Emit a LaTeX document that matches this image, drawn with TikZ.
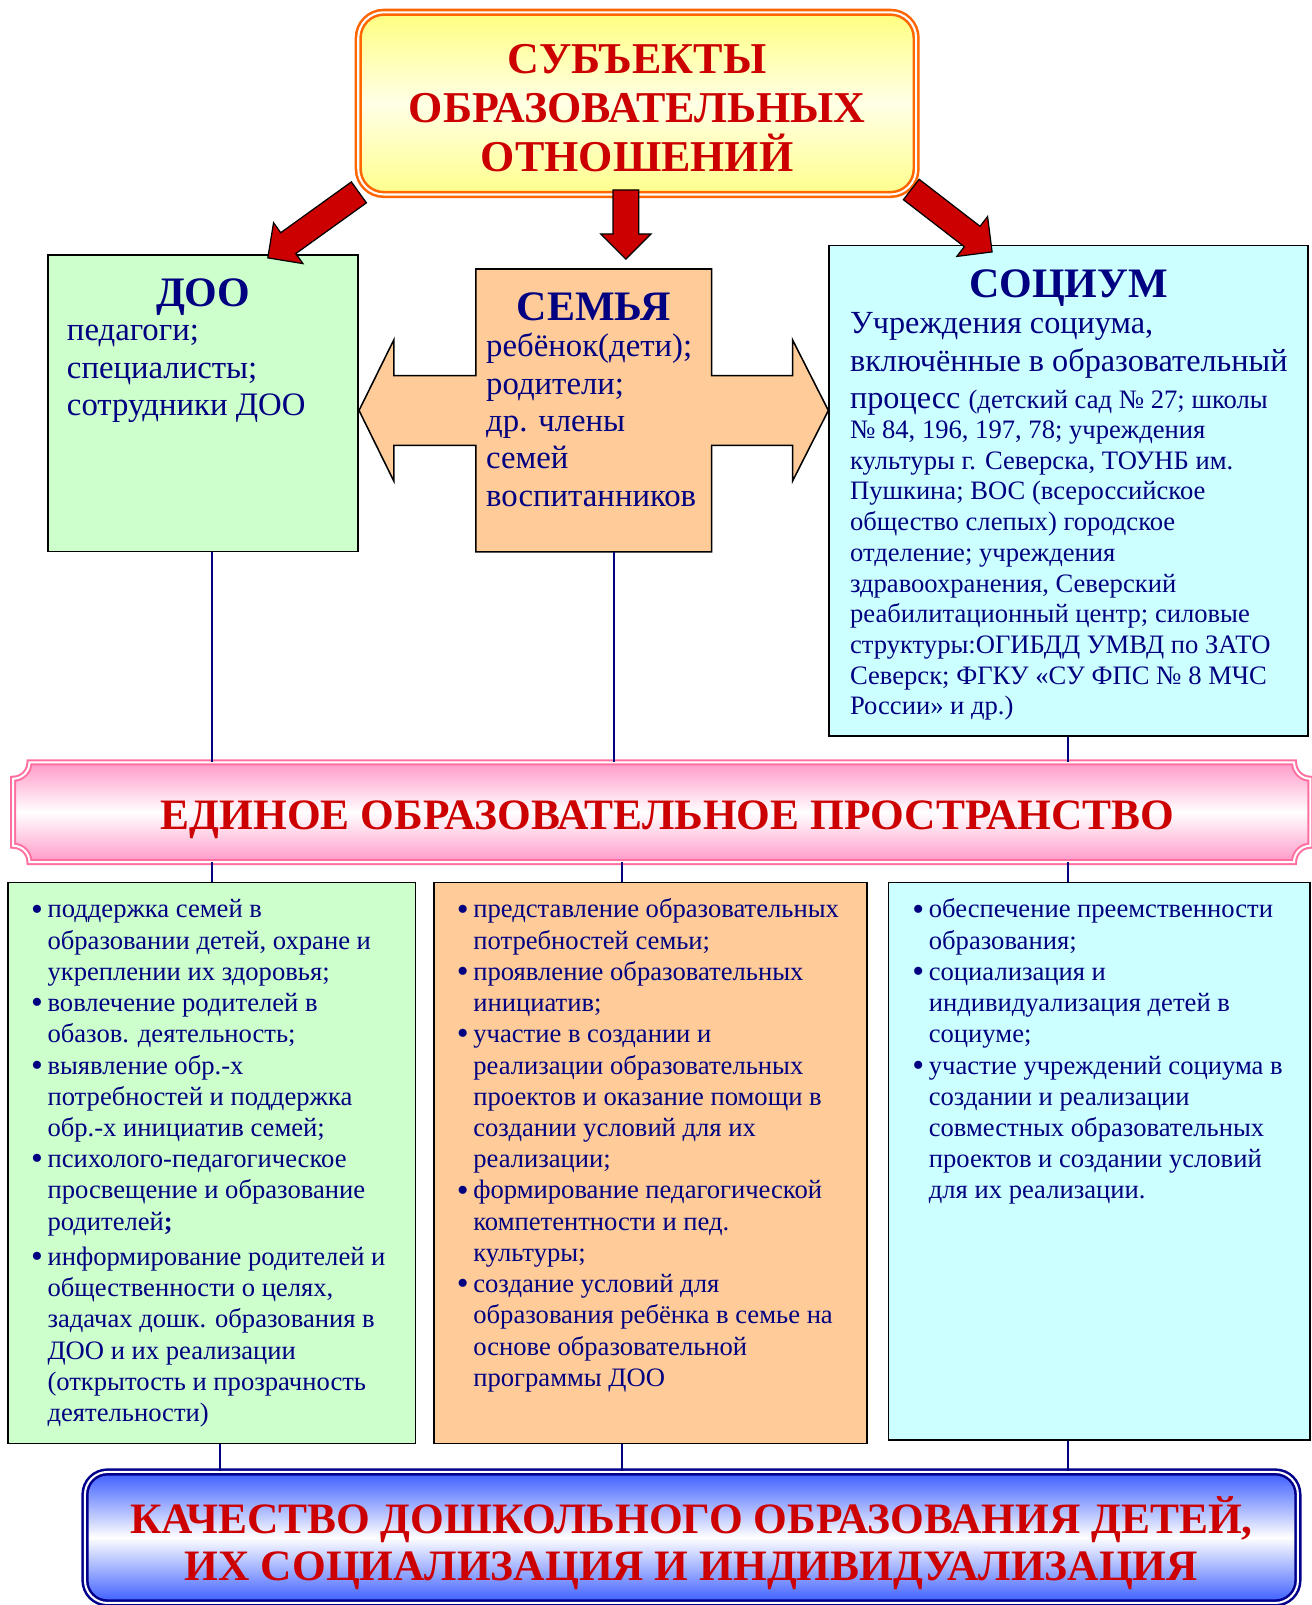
\documentclass[tikz,border=0pt]{standalone}
\usepackage{fontspec}
\setmainfont{Liberation Serif}
\usetikzlibrary{positioning, calc, shapes.arrows}
\definecolor{cnavy}{HTML}{000080}
\definecolor{cred}{HTML}{CC0000}
\definecolor{cgreen}{HTML}{CCFFCC}
\definecolor{corange}{HTML}{FFCC99}
\definecolor{ccyan}{HTML}{CCFFFF}
\definecolor{cframe}{HTML}{FF6600}
\definecolor{cpink}{HTML}{FF6F9F}
\definecolor{cpinkfill}{HTML}{FF99C8}
\definecolor{cblue}{HTML}{3A5CFF}
\definecolor{cdeep}{HTML}{00008C}
\newcommand\fsz[2]{\fontsize{#1}{#2}\selectfont}
\newcommand\itm{\makebox[16pt][l]{{\fsz{33}{30}\raisebox{-2pt}{•}}}}
\newcommand\ind{\hspace*{16pt}}
\newcommand\blockarrow[2]{\path let \p1=(#1), \p2=(#2), \n1={atan2(\y2-\y1,\x2-\x1)}, \n2={veclen(\x2-\x1,\y2-\y1)} in node[bigarrow, rotate=\n1, minimum height=\n2] at ($(#1)!0.5!(#2)$) {};}
\tikzset{
  every picture/.style={x=1pt, y=-1pt},
  card/.style={draw=black, line width=1.5pt, fill=#1, inner sep=0pt},
  head/.style={font=\bfseries\fsz{41}{45}, text=cnavy, anchor=base, inner sep=0pt},
  body/.style={font=\fsz{32}{36.5}, text=cnavy, align=left, inner sep=0pt, anchor=north west},
  fine/.style={font=\fsz{26}{30}, text=cnavy, align=left, inner sep=0pt, anchor=north west},
  points/.style={font=\fsz{26}{30.5}, text=cnavy, align=left, inner sep=0pt, anchor=north west},
  bigarrow/.style={single arrow, draw=black, fill=cred, line width=1.2pt, inner xsep=0pt, inner ysep=12pt, minimum width=48pt, single arrow head extend=12pt, single arrow tip angle=90},
  link/.style={draw=cnavy, line width=2pt},
  headline/.style={font=\bfseries\fsz{42.4}{46}, text=cred, align=center, inner sep=0pt},
}

\begin{document}
\begin{tikzpicture}
\fill[white] (0,0) rectangle (1281,1568);
\useasboundingbox (0,0) rectangle (1281,1568);
% top box
\node[draw=cframe, double=white, double distance=2pt, line width=2.5pt, rounded corners=25pt,
  top color=yellow!50, bottom color=yellow!45, middle color=yellow!10,
  minimum width=545pt, minimum height=178pt] (title) at (622.5,101) {};
\node[font=\bfseries\fsz{43}{48}, text=cred, align=center, inner sep=0pt] (titletext) at ($(title.center)+(0,4.5)$) {СУБЪЕКТЫ\\ОБРАЗОВАТЕЛЬНЫХ\\ОТНОШЕНИЙ};

% the three subjects
\node[card=cgreen, minimum width=303pt, minimum height=290pt] (doo) at (198.5,394) {};
\node[card=ccyan, minimum width=468pt, minimum height=479pt] (socium) at (1044,479.5) {};
\node[inner sep=0pt, minimum width=230pt, minimum height=276pt] (semya) at (580,401) {};
\coordinate (tipL) at (doo.east |- semya.center);
\coordinate (tipR) at (socium.west |- semya.center);
\coordinate (hL) at ($(tipL)+(34,0)$);
\coordinate (hR) at ($(tipR)+(-35,0)$);
\draw[card=corange] (semya.north west) -- (semya.north east) -- ($(semya.east)+(0,-34)$)
  -- ($(hR)+(0,-34)$) -- ($(hR)+(0,-69)$) -- (tipR) -- ($(hR)+(0,69)$) -- ($(hR)+(0,34)$)
  -- ($(semya.east)+(0,34)$) -- (semya.south east) -- (semya.south west) -- ($(semya.west)+(0,34)$)
  -- ($(hL)+(0,34)$) -- ($(hL)+(0,69)$) -- (tipL) -- ($(hL)+(0,-69)$) -- ($(hL)+(0,-34)$)
  -- ($(semya.west)+(0,-34)$) -- cycle;

\node[head] (dootitle) at ($(doo.north)+(0,51)$) {ДОО};
\node[body] (dootext) at ($(doo.north west)+(19,59)$) {\strut педагоги;\\специалисты;\\сотрудники ДОО};
\node[head] (semyatitle) at ($(semya.north)+(0,50)$) {СЕМЬЯ};
\node[body] (semyatext) at ($(semya.north west)+(10,60)$) {\strut ребёнок(дети);\\родители;\\др. члены\\семей\\воспитанников};
\node[head] (sociumtitle) at ($(socium.north)+(0,51)$) {СОЦИУМ};
\node[body, font=\fsz{31.5}{36.5}] (sociumtext) at ($(socium.north west)+(21,61)$) {\strut Учреждения социума,\\включённые в образовательный\\процесс {\fsz{26}{30}(детский сад № 27; школы}};
\node[fine] (sociumlist) at ($(socium.north west)+(21,168)$) {\strut № 84, 196, 197, 78; учреждения\\культуры г. Северска, ТОУНБ им.\\Пушкина; ВОС (всероссийское\\общество слепых) городское\\отделение; учреждения\\здравоохранения, Северский\\реабилитационный центр; силовые\\структуры:ОГИБДД УМВД по ЗАТО\\Северск; ФГКУ «СУ ФПС № 8 МЧС\\России» и др.)};

% red arrows
\coordinate (a1s) at ($(title.south west)+(7,-7)$);
\coordinate (a1e) at ($(doo.north east)+(-84,0)$);
\coordinate (a2s) at ($(title.south)+(-11,-12)$);
\coordinate (a2e) at ($(a2s |- semya.north)+(0,-16)$);
\coordinate (a3s) at ($(title.south east)+(-11,-10)$);
\coordinate (a3e) at ($(socium.north west)+(155,3)$);
\blockarrow{a1s}{a1e}
\blockarrow{a2s}{a2e}
\blockarrow{a3s}{a3e}

% banner
\node[inner sep=0pt, minimum width=1267pt, minimum height=97pt] (space) at (646.5,793.5) {};
\draw[draw=cpink, double=white, double distance=2pt, line width=2pt,
  top color=cpinkfill, bottom color=cpinkfill, middle color=white]
  ($(space.north west)+(16,0)$) -- ($(space.north east)+(-16,0)$) arc[start angle=180, end angle=90, radius=16]
  -- ($(space.south east)+(0,-16)$) arc[start angle=270, end angle=180, radius=16]
  -- ($(space.south west)+(16,0)$) arc[start angle=0, end angle=-90, radius=16]
  -- ($(space.north west)+(0,16)$) arc[start angle=90, end angle=0, radius=16] -- cycle;
\node[headline, anchor=base] (spacetext) at ($(space.center)+(5.5,16.5)$) {ЕДИНОЕ ОБРАЗОВАТЕЛЬНОЕ ПРОСТРАНСТВО};

% lists
\node[card=cgreen, minimum width=398pt, minimum height=548pt] (list1) at (207,1136) {};
\node[card=corange, minimum width=423pt, minimum height=548pt] (list2) at (635.5,1136) {};
\node[card=ccyan, minimum width=412pt, minimum height=545pt] (list3) at (1074,1134.5) {};
\node[points] (points1) at ($(list1.north west)+(23,14)$) {\strut\itm поддержка семей в\\\ind образовании детей, охране и\\\ind укреплении их здоровья;\\\itm вовлечение родителей в\\\ind обазов. деятельность;\\\itm выявление обр.-х\\\ind потребностей и поддержка\\\ind обр.-х инициатив семей;\\\itm психолого-педагогическое\\\ind просвещение и образование\\\ind родителей{\bfseries;}\\[4pt]\itm информирование родителей и\\\ind общественности о целях,\\\ind задачах дошк. образования в\\\ind ДОО и их реализации\\\ind (открытость и прозрачность\\\ind деятельности)};
\node[points] (points2) at ($(list2.north west)+(23,14)$) {\strut\itm представление образовательных\\\ind потребностей семьи;\\\itm проявление образовательных\\\ind инициатив;\\\itm участие в создании и\\\ind реализации образовательных\\\ind проектов и оказание помощи в\\\ind создании условий для их\\\ind реализации;\\\itm формирование педагогической\\\ind компетентности и пед.\\\ind культуры;\\\itm создание условий для\\\ind образования ребёнка в семье на\\\ind основе образовательной\\\ind программы ДОО};
\node[points] (points3) at ($(list3.north west)+(24,14)$) {\strut\itm обеспечение преемственности\\\ind образования;\\\itm социализация и\\\ind индивидуализация детей в\\\ind социуме;\\\itm участие учреждений социума в\\\ind создании и реализации\\\ind совместных образовательных\\\ind проектов и создании условий\\\ind для их реализации.};

% bottom box
\node[draw=cdeep, double=white, double distance=2pt, line width=2.5pt, rounded corners=22pt,
  top color=cblue, bottom color=cblue, middle color=white,
  minimum width=1185pt, minimum height=128pt] (quality) at (675.5,1502) {};
\node[headline] (qualitytext) at ($(quality.center)+(0,6)$) {КАЧЕСТВО ДОШКОЛЬНОГО ОБРАЗОВАНИЯ ДЕТЕЙ,\\ИХ СОЦИАЛИЗАЦИЯ И ИНДИВИДУАЛИЗАЦИЯ};

% links
\coordinate (k1) at (207,0);
\coordinate (k1b) at (215,0);
\coordinate (k2) at (600,0);
\coordinate (k2b) at (608,0);
\coordinate (k3) at (1043,0);
\draw[link] (doo.south -| k1) -- (space.north -| k1);
\draw[link] (semya.south -| k2) -- (space.north -| k2);
\draw[link] (socium.south -| k3) -- (space.north -| k3);
\draw[link] (space.south -| k1) -- (list1.north -| k1);
\draw[link] (space.south -| k2b) -- (list2.north -| k2b);
\draw[link] (space.south -| k3) -- (list3.north -| k3);
\draw[link] (list1.south -| k1b) -- (quality.north -| k1b);
\draw[link] (list2.south -| k2b) -- (quality.north -| k2b);
\draw[link] (list3.south -| k3) -- (quality.north -| k3);
\end{tikzpicture}
\end{document}
